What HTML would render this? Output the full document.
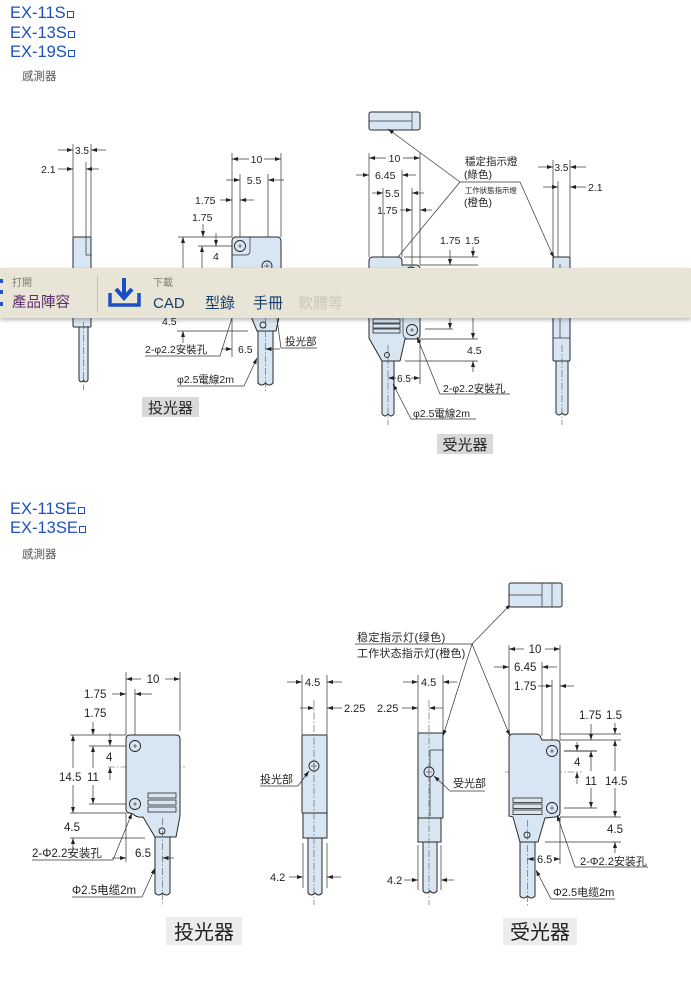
<!DOCTYPE html>
<html><head><meta charset="utf-8">
<style>
html,body{margin:0;padding:0;background:#fff;}
body{width:691px;height:989px;position:relative;overflow:hidden;font-family:"Liberation Sans","Noto Sans CJK TC",sans-serif;}
.h{position:absolute;left:10px;font-size:16.5px;line-height:19px;color:#1d4fc0;white-space:nowrap;}
.h i{display:inline-block;width:5px;height:5px;border:1px solid #1d4fc0;margin-left:1px;vertical-align:baseline;}
.sub{position:absolute;left:22px;font-size:11.5px;line-height:12px;color:#555;}
#tb{position:absolute;left:0;top:268px;width:691px;height:50px;background:#e9e5d6;box-shadow:0 2px 4px rgba(0,0,0,.28);z-index:5;}
#tb div{position:absolute;white-space:nowrap;line-height:1;}
.sm{font-size:10px;color:#7d7a72;}
.bg{font-size:15px;color:#163d6e;}
</style></head><body>

<div class="h" style="top:4px">EX-11S<i></i></div>
<div class="h" style="top:24px">EX-13S<i></i></div>
<div class="h" style="top:43px">EX-19S<i></i></div>
<div class="sub" style="top:71px">感測器</div>

<div class="h" style="top:500px">EX-11SE<i></i></div>
<div class="h" style="top:519px">EX-13SE<i></i></div>
<div class="sub" style="top:549px">感測器</div>

<svg width="691" height="989" viewBox="0 0 691 989" style="position:absolute;left:0;top:0">
<defs>
<marker id="a" markerWidth="6" markerHeight="4" refX="6" refY="2" orient="auto-start-reverse" markerUnits="userSpaceOnUse"><path d="M0,0L6,2L0,4z" fill="#222"/></marker>
</defs>
<style>
.o{fill:#d8e6f3;stroke:#2a2a2a;stroke-width:1}
.l{stroke:#333;stroke-width:.7;fill:none}
.c{stroke:#555;stroke-width:.6;stroke-dasharray:7 2 1.5 2;fill:none}
.d{stroke:#333;stroke-width:.7;fill:none;marker-end:url(#a)}
.hc{fill:#d8e6f3;stroke:#222;stroke-width:.9}
.x{stroke:#222;stroke-width:.6;fill:none}
text{font-family:"Liberation Sans","Noto Sans CJK TC",sans-serif;font-size:10.5px;fill:#222}
.s{font-family:"Liberation Sans","Noto Sans CJK SC",sans-serif;font-size:11px}
.lb{fill:#d9d9d9}
</style>

<!-- ============ TOP: emitter side view ============ -->
<line class="l" x1="73" y1="144" x2="73" y2="237"/>
<line class="l" x1="91" y1="144" x2="91" y2="237"/>
<line class="l" x1="86" y1="162" x2="86" y2="237"/>
<line class="d" x1="58" y1="150" x2="73" y2="150"/>
<line class="d" x1="106" y1="150" x2="91" y2="150"/>
<text x="82" y="154" text-anchor="middle" style="font-size:10px">3.5</text>
<text x="41" y="173">2.1</text>
<line class="d" x1="58" y1="169" x2="73" y2="169"/>
<line class="d" x1="99" y1="169" x2="86" y2="169"/>
<path class="o" d="M79,326 V380 Q81.25,384 83.5,380 Q85.75,384 88,380 V326 Z"/>
<rect class="o" x="73" y="237" width="18" height="90" rx="1"/>
<path class="l" d="M86,237 V255 H91"/>
<line class="c" x1="83.5" y1="322" x2="83.5" y2="390"/>

<!-- ============ TOP: emitter front ============ -->
<line class="l" x1="232" y1="153" x2="232" y2="237"/>
<line class="l" x1="281" y1="153" x2="281" y2="237"/>
<line class="l" x1="240" y1="174" x2="240" y2="241"/>
<line class="l" x1="268" y1="174" x2="268" y2="262"/>
<line class="d" x1="249" y1="159" x2="232" y2="159"/>
<line class="d" x1="264" y1="159" x2="281" y2="159"/>
<text x="256.5" y="163" text-anchor="middle">10</text>
<line class="d" x1="226" y1="180" x2="240" y2="180"/>
<line class="d" x1="284" y1="180" x2="268" y2="180"/>
<text x="254" y="184" text-anchor="middle">5.5</text>
<text x="195" y="204">1.75</text>
<line class="d" x1="220" y1="200" x2="232" y2="200"/>
<line class="d" x1="254" y1="200" x2="240" y2="200"/>
<text x="192" y="221">1.75</text>
<line class="d" x1="203" y1="224" x2="203" y2="237"/>
<line class="d" x1="216" y1="233" x2="216" y2="246"/>
<line class="l" x1="178" y1="237" x2="232" y2="237"/>
<line class="l" x1="198" y1="246" x2="236" y2="246"/>
<line class="d" x1="183" y1="268" x2="183" y2="237"/>
<line class="d" x1="202" y1="268" x2="202" y2="246"/>
<text x="213" y="260">4</text>

<path class="o" d="M232,241 Q232,237 236,237 L277,237 Q281,237 281,241 L281,308 L276,331 L257,331 L248,309 L236,309 Q232,309 232,305 Z"/>
<path class="l" d="M232,255 L246,255 Q250,255 250,251 L250,237"/>
<circle class="hc" cx="240" cy="246" r="5.5"/><path class="x" d="M238,246H242M240,244V248"/>
<circle class="hc" cx="267" cy="266" r="5"/><path class="x" d="M264,266H270M267,263V269"/>
<circle class="hc" cx="263" cy="325" r="3"/>
<path class="o" d="M258,331 V383 Q261.75,387 265.5,383 Q269.25,387 273,383 V331 Z"/>
<line class="c" x1="265.5" y1="318" x2="265.5" y2="392"/>

<text x="162" y="325">4.5</text>
<line class="l" x1="177" y1="331" x2="248" y2="331"/>
<line class="d" x1="183" y1="343" x2="183" y2="331"/>
<text x="145" y="353" style="font-size:10.5px">2-φ2.2安裝孔</text>
<path class="l" d="M145,356 H220 L236,305"/>
<text x="238" y="353">6.5</text>
<line class="d" x1="221" y1="349" x2="232" y2="349"/>
<line class="d" x1="280" y1="349" x2="265.5" y2="349"/>
<line class="l" x1="232" y1="309" x2="232" y2="357"/>
<text x="177" y="383" style="font-size:10.5px">φ2.5電線2m</text>
<path class="l" d="M177,386 H244"/>
<line class="d" x1="244" y1="386" x2="257" y2="358"/>
<text x="285" y="345" style="font-size:10.5px">投光部</text>
<path class="l" d="M270,268 L281,348 H317"/>
<rect class="lb" x="142" y="397" width="57" height="20"/>
<text x="170.5" y="413" text-anchor="middle" style="font-size:15px">投光器</text>

<!-- ============ TOP: receiver front ============ -->
<rect class="o" x="369" y="112" width="51" height="18" rx="2"/>
<line class="l" x1="412" y1="112" x2="412" y2="130"/>
<line class="l" x1="369" y1="121" x2="412" y2="121"/>

<line class="l" x1="369" y1="153" x2="369" y2="257"/>
<line class="l" x1="383" y1="188" x2="383" y2="257"/>
<line class="l" x1="402" y1="170" x2="402" y2="257"/>
<line class="l" x1="412" y1="188" x2="412" y2="266"/>
<line class="l" x1="420" y1="153" x2="420" y2="265"/>
<line class="d" x1="386" y1="158" x2="369" y2="158"/>
<line class="d" x1="403" y1="158" x2="420" y2="158"/>
<text x="394.5" y="162" text-anchor="middle">10</text>
<line class="d" x1="356" y1="175" x2="369" y2="175"/>
<text x="375" y="179">6.45</text>
<line class="d" x1="416" y1="175" x2="402" y2="175"/>
<line class="d" x1="372" y1="193" x2="383" y2="193"/>
<text x="385" y="197">5.5</text>
<line class="d" x1="424" y1="193" x2="412" y2="193"/>
<text x="377" y="214">1.75</text>
<line class="d" x1="400" y1="210" x2="412" y2="210"/>
<line class="d" x1="432" y1="210" x2="420" y2="210"/>

<text x="465" y="165" style="font-size:10.5px">穩定指示燈</text>
<text x="464" y="178" style="font-size:10.5px">(綠色)</text>
<line class="l" x1="460" y1="182" x2="520" y2="182"/>
<text x="465" y="193" style="font-size:7.4px">工作狀態指示燈</text>
<text x="464" y="206" style="font-size:10.5px">(橙色)</text>
<line class="d" x1="460" y1="182" x2="388" y2="129"/>
<line class="d" x1="460" y1="182" x2="393" y2="263"/>
<line class="d" x1="520" y1="182" x2="554" y2="258"/>

<text x="440" y="244">1.75</text>
<text x="465" y="244">1.5</text>
<line class="d" x1="450" y1="250" x2="450" y2="265"/>
<line class="d" x1="473" y1="247" x2="473" y2="257"/>
<line class="l" x1="404" y1="257" x2="478" y2="257"/>
<line class="l" x1="420" y1="265" x2="478" y2="265"/>

<path class="o" d="M369,261 Q369,257 373,257 L398,257 Q402,257 402,261 L402,265 L416,265 Q420,265 420,269 L420,335 Q420,339 416,339 L405,339 L400,361 L382,361 L370,340 L369,338 Z"/>
<circle class="hc" cx="411" cy="272" r="5"/>
<path class="l" d="M403,316 V333 Q403,339 409,339"/>
<circle class="hc" cx="412" cy="330" r="5.5"/><path class="x" d="M410,330H414M412,328V332"/>
<rect class="o" x="373" y="319" width="27" height="4" style="stroke-width:.8"/>
<rect class="o" x="373" y="324" width="27" height="4" style="stroke-width:.8"/>
<rect class="o" x="373" y="329" width="27" height="4" style="stroke-width:.8"/>
<circle class="hc" cx="387" cy="355" r="2.5"/>
<path class="o" d="M382,361 V414 Q385,418 388,414 Q391,418 394,414 V361 Z"/>
<line class="c" x1="388" y1="345" x2="388" y2="425"/>

<line class="l" x1="425" y1="329" x2="453" y2="329"/>
<line class="d" x1="450" y1="318" x2="450" y2="329"/>
<line class="d" x1="473" y1="318" x2="473" y2="339"/>
<line class="l" x1="420" y1="339" x2="478" y2="339"/>
<line class="l" x1="405" y1="361" x2="478" y2="361"/>
<text x="467" y="354">4.5</text>
<line class="d" x1="473" y1="372" x2="473" y2="361"/>
<line class="l" x1="420" y1="339" x2="420" y2="384"/>
<text x="397" y="382" style="font-size:10px">6.5</text>
<line class="d" x1="411" y1="378" x2="420" y2="378"/>
<line class="d" x1="396" y1="378" x2="388" y2="378"/>
<text x="443" y="392">2-φ2.2安裝孔</text>
<line class="l" x1="440" y1="394" x2="510" y2="394"/>
<line class="d" x1="440" y1="394" x2="417" y2="337"/>
<text x="413" y="417">φ2.5電線2m</text>
<line class="l" x1="411" y1="419" x2="476" y2="419"/>
<line class="d" x1="411" y1="419" x2="393" y2="384"/>
<rect class="lb" x="437" y="434" width="56" height="20"/>
<text x="465" y="450" text-anchor="middle" style="font-size:15px">受光器</text>

<!-- TOP: receiver side view -->
<line class="l" x1="553" y1="160" x2="553" y2="257"/>
<line class="l" x1="570" y1="160" x2="570" y2="257"/>
<line class="l" x1="558" y1="181" x2="558" y2="257"/>
<line class="d" x1="538" y1="167" x2="553" y2="167"/>
<line class="d" x1="586" y1="167" x2="570" y2="167"/>
<text x="561.5" y="171" text-anchor="middle" style="font-size:10px">3.5</text>
<line class="d" x1="543" y1="187" x2="558" y2="187"/>
<line class="d" x1="586" y1="187" x2="570" y2="187"/>
<text x="588" y="191">2.1</text>
<path class="o" d="M556,361 V413 Q559,417 562,413 Q565,417 568,413 V361 Z"/>
<rect class="o" x="553" y="257" width="17" height="104" rx="1.5"/>
<path class="l" d="M560,264 V338 M553,338 H570"/>
<line class="c" x1="562" y1="345" x2="562" y2="425"/>

<!-- ============ BOTTOM: emitter front ============ -->
<line class="l" x1="126" y1="672" x2="126" y2="735"/>
<line class="l" x1="180" y1="672" x2="180" y2="731"/>
<line class="l" x1="135" y1="689" x2="135" y2="741"/>
<line class="d" x1="141" y1="679" x2="126" y2="679"/>
<line class="d" x1="165" y1="679" x2="180" y2="679"/>
<text x="153" y="683" text-anchor="middle" style="font-size:11.5px">10</text>
<text x="84" y="698" style="font-size:11.5px">1.75</text>
<line class="d" x1="112" y1="694" x2="126" y2="694"/>
<line class="d" x1="152" y1="694" x2="135" y2="694"/>
<text x="84" y="717" style="font-size:11.5px">1.75</text>
<line class="d" x1="93" y1="722" x2="93" y2="735"/>
<line class="d" x1="110" y1="733" x2="110" y2="746"/>
<line class="l" x1="70" y1="735" x2="126" y2="735"/>
<line class="l" x1="89" y1="746" x2="129" y2="746"/>
<line class="l" x1="89" y1="804" x2="129" y2="804"/>
<line class="l" x1="70" y1="813" x2="126" y2="813"/>
<line class="l" x1="70" y1="838" x2="145" y2="838"/>
<line class="d" x1="73" y1="768" x2="73" y2="735"/>
<line class="d" x1="73" y1="785" x2="73" y2="813"/>
<text x="59" y="781" style="font-size:11.5px">14.5</text>
<line class="d" x1="93" y1="768" x2="93" y2="746"/>
<line class="d" x1="93" y1="785" x2="93" y2="804"/>
<text x="87" y="781" style="font-size:11.5px">11</text>
<text x="106" y="761" style="font-size:11.5px">4</text>
<line class="d" x1="110" y1="780" x2="110" y2="767"/>
<text x="64" y="831" style="font-size:11.5px">4.5</text>
<line class="d" x1="73" y1="851" x2="73" y2="838"/>
<line class="c" x1="108" y1="767" x2="185" y2="767"/>

<path class="o" d="M126,739 Q126,735 130,735 L176,735 Q180,735 180,739 L180,816 L176,837 L155,837 L143,817 Q137,818 133,814 L130,813 Q126,813 126,809 Z"/>
<circle class="hc" cx="135" cy="746" r="5.5"/><path class="x" d="M133,746H137M135,744V748"/>
<circle class="hc" cx="135" cy="804" r="5.5"/><path class="x" d="M133,804H137M135,802V806"/>
<rect class="o" x="148" y="793" width="28" height="5" style="stroke-width:.8"/>
<rect class="o" x="148" y="800" width="28" height="5" style="stroke-width:.8"/>
<rect class="o" x="148" y="807" width="28" height="5" style="stroke-width:.8"/>
<circle class="hc" cx="162" cy="831" r="3"/>
<path class="o" d="M155,837 V893 Q158.75,897 162.5,893 Q166.25,897 170,893 V837 Z"/>
<line class="c" x1="162.5" y1="818" x2="162.5" y2="906"/>

<line class="l" x1="126" y1="813" x2="126" y2="862"/>
<text x="32" y="857" class="s" style="font-size:11.5px">2-Φ2.2安装孔</text>
<path class="l" d="M32,860 H113"/>
<line class="d" x1="113" y1="860" x2="132" y2="813"/>
<text x="135" y="857" style="font-size:11.5px">6.5</text>
<line class="d" x1="112" y1="858" x2="126" y2="858"/>
<line class="d" x1="174" y1="858" x2="162.5" y2="858"/>
<text x="72" y="894" class="s" style="font-size:11.5px">Φ2.5电缆2m</text>
<path class="l" d="M72,897 H142"/>
<line class="d" x1="142" y1="897" x2="155" y2="868"/>
<rect x="166" y="917" width="76" height="28" fill="#ececec"/>
<text x="204" y="939" text-anchor="middle" class="s" style="font-size:20px">投光器</text>

<!-- ============ BOTTOM: emitter side ============ -->
<line class="l" x1="302" y1="675" x2="302" y2="735"/>
<line class="l" x1="327" y1="675" x2="327" y2="735"/>
<line class="d" x1="287" y1="682" x2="302" y2="682"/>
<line class="d" x1="342" y1="682" x2="327" y2="682"/>
<text x="305" y="686" style="font-size:11px">4.5</text>
<line class="d" x1="300" y1="708" x2="314" y2="708"/>
<line class="d" x1="342" y1="708" x2="327" y2="708"/>
<text x="344" y="712" style="font-size:11px">2.25</text>
<path class="o" d="M308,838 V893 Q311.5,897 315,893 Q318.5,897 322,893 V838 Z"/>
<rect class="o" x="303" y="811" width="24" height="27"/>
<rect class="o" x="302" y="735" width="25" height="78" rx="1"/>
<circle class="hc" cx="314" cy="766" r="5"/><path class="x" d="M311,766H317M314,763V769"/>
<line class="c" x1="314" y1="700" x2="314" y2="905"/>
<text x="260" y="783" class="s">投光部</text>
<path class="l" d="M260,786 H298"/>
<line class="d" x1="298" y1="786" x2="309" y2="771"/>
<line class="l" x1="303" y1="843" x2="303" y2="888"/>
<line class="l" x1="327" y1="843" x2="327" y2="888"/>
<text x="270" y="881" style="font-size:11px">4.2</text>
<line class="d" x1="289" y1="877" x2="303" y2="877"/>
<line class="d" x1="341" y1="877" x2="327" y2="877"/>

<!-- ============ BOTTOM: receiver side ============ -->
<line class="l" x1="418" y1="675" x2="418" y2="733"/>
<line class="l" x1="443" y1="675" x2="443" y2="733"/>
<line class="d" x1="403" y1="682" x2="418" y2="682"/>
<line class="d" x1="457" y1="682" x2="443" y2="682"/>
<text x="421" y="686" style="font-size:11px">4.5</text>
<text x="377" y="712" style="font-size:11px">2.25</text>
<line class="d" x1="402" y1="708" x2="418" y2="708"/>
<line class="d" x1="443" y1="708" x2="429" y2="708"/>
<path class="o" d="M423,842 V891 Q426.5,895 430,891 Q433.5,895 437,891 V842 Z"/>
<rect class="o" x="418" y="816" width="23" height="26"/>
<rect class="o" x="418" y="733" width="25" height="85" rx="1"/>
<path class="l" d="M430,750 H443 M430,750 V816"/>
<circle class="hc" cx="429" cy="772" r="5"/><path class="x" d="M426,772H432M429,769V775"/>
<line class="c" x1="429" y1="700" x2="429" y2="905"/>
<text x="453" y="787" class="s">受光部</text>
<path class="l" d="M450,791 H485"/>
<line class="d" x1="450" y1="791" x2="434" y2="776"/>
<line class="l" x1="418" y1="845" x2="418" y2="890"/>
<line class="l" x1="441" y1="845" x2="441" y2="890"/>
<text x="387" y="884" style="font-size:11px">4.2</text>
<line class="d" x1="404" y1="880" x2="418" y2="880"/>
<line class="d" x1="454" y1="880" x2="441" y2="880"/>

<!-- labels bottom -->
<text x="357" y="641" class="s" style="font-size:11px;letter-spacing:.5px">稳定指示灯(绿色)</text>
<line class="l" x1="355" y1="644" x2="473" y2="644"/>
<text x="357" y="657" class="s" style="font-size:11px;letter-spacing:.2px">工作状态指示灯(橙色)</text>
<line class="d" x1="472" y1="644" x2="511" y2="604"/>
<line class="d" x1="472" y1="644" x2="510" y2="736"/>
<line class="d" x1="472" y1="644" x2="443" y2="736"/>

<!-- ============ BOTTOM: receiver front ============ -->
<rect class="o" x="509" y="583" width="53" height="24" rx="2"/>
<line class="l" x1="509" y1="595" x2="542" y2="595"/>
<line class="l" x1="542" y1="583" x2="542" y2="607"/>
<line class="l" x1="552" y1="583" x2="552" y2="607"/>

<line class="l" x1="509" y1="645" x2="509" y2="734"/>
<line class="l" x1="560" y1="645" x2="560" y2="740"/>
<line class="l" x1="542" y1="662" x2="542" y2="736"/>
<line class="l" x1="552" y1="680" x2="552" y2="745"/>
<line class="d" x1="524" y1="649" x2="509" y2="649"/>
<line class="d" x1="545" y1="649" x2="560" y2="649"/>
<text x="535" y="653" text-anchor="middle" style="font-size:11.5px">10</text>
<line class="d" x1="494" y1="667" x2="509" y2="667"/>
<text x="514" y="671" style="font-size:11.5px">6.45</text>
<line class="d" x1="557" y1="667" x2="542" y2="667"/>
<text x="514" y="690" style="font-size:11.5px">1.75</text>
<line class="d" x1="538" y1="686" x2="552" y2="686"/>
<line class="d" x1="574" y1="686" x2="560" y2="686"/>
<text x="579" y="719" style="font-size:11.5px">1.75</text>
<text x="606" y="719" style="font-size:11.5px">1.5</text>
<line class="d" x1="591" y1="724" x2="591" y2="740"/>
<line class="d" x1="615" y1="723" x2="615" y2="734"/>
<line class="l" x1="560" y1="734" x2="621" y2="734"/>
<line class="l" x1="560" y1="740" x2="621" y2="740"/>
<line class="l" x1="564" y1="751" x2="597" y2="751" style="stroke-width:1.1"/>
<line class="l" x1="564" y1="808" x2="597" y2="808"/>
<line class="l" x1="560" y1="817" x2="621" y2="817"/>
<line class="l" x1="545" y1="842" x2="621" y2="842"/>
<text x="574" y="766" style="font-size:11.5px">4</text>
<line class="d" x1="577" y1="742" x2="577" y2="751"/>
<line class="d" x1="577" y1="784" x2="577" y2="772"/>
<line class="d" x1="591" y1="771" x2="591" y2="751"/>
<line class="d" x1="591" y1="788" x2="591" y2="808"/>
<text x="585" y="785" style="font-size:11.5px">11</text>
<line class="d" x1="615" y1="771" x2="615" y2="740"/>
<line class="d" x1="615" y1="788" x2="615" y2="817"/>
<text x="605" y="785" style="font-size:11.5px">14.5</text>
<text x="607" y="833" style="font-size:11.5px">4.5</text>
<line class="d" x1="615" y1="853" x2="615" y2="842"/>
<line class="c" x1="505" y1="772" x2="582" y2="772"/>

<path class="o" d="M509,738 Q509,734 513,734 L536,734 Q540,734 541,738 L542,740 L556,740 Q560,740 560,744 L560,812 Q560,817 555,817 L545,818 L538,842 L520,842 L513,817 L509,816 Z"/>
<circle class="hc" cx="552" cy="751" r="5.5"/><path class="x" d="M550,751H554M552,749V753"/>
<circle class="hc" cx="552" cy="808" r="5.5"/><path class="x" d="M550,808H554M552,806V810"/>
<rect class="o" x="513" y="798" width="29" height="4.5" style="stroke-width:.8"/>
<rect class="o" x="513" y="804" width="29" height="4.5" style="stroke-width:.8"/>
<rect class="o" x="513" y="810" width="29" height="4.5" style="stroke-width:.8"/>
<circle class="hc" cx="527" cy="835" r="3"/>
<path class="o" d="M520,842 V896 Q523.75,900 527.5,896 Q531.25,900 535,896 V842 Z"/>
<line class="c" x1="527.5" y1="820" x2="527.5" y2="906"/>

<line class="l" x1="560" y1="817" x2="560" y2="864"/>
<text x="537" y="863" style="font-size:11px">6.5</text>
<line class="d" x1="554" y1="859" x2="560" y2="859"/>
<line class="d" x1="535" y1="859" x2="527.5" y2="859"/>
<text x="580" y="865" class="s" style="font-size:11px">2-Φ2.2安装孔</text>
<line class="l" x1="575" y1="867" x2="648" y2="867"/>
<line class="d" x1="575" y1="867" x2="557" y2="815"/>
<text x="553" y="896" class="s" style="font-size:11px">Φ2.5电缆2m</text>
<line class="l" x1="551" y1="899" x2="615" y2="899"/>
<line class="d" x1="551" y1="899" x2="536" y2="870"/>
<rect x="503" y="918" width="74" height="27" fill="#ececec"/>
<text x="540" y="939" text-anchor="middle" class="s" style="font-size:20px">受光器</text>
</svg>

<div id="tb">
  <span style="position:absolute;left:0;top:11px;width:3px;height:4px;background:#2353c4"></span>
  <span style="position:absolute;left:0;top:22px;width:3px;height:4px;background:#2353c4"></span>
  <span style="position:absolute;left:0;top:34px;width:3px;height:4px;background:#2353c4"></span>
  <div class="sm" style="left:12px;top:11px">打開</div>
  <div style="left:12px;top:28px;font-size:14.5px;color:#5e2b6e">產品陣容</div>
  <div style="left:97px;top:7px;width:1px;height:37px;background:#cdbfa2"></div>
  <svg width="36" height="32" viewBox="0 0 36 32" style="position:absolute;left:107px;top:9px">
    <path d="M17,1 V20" stroke="#1b4fc6" stroke-width="4" fill="none"/>
    <path d="M9,12 L17,21 L25,12" stroke="#1b4fc6" stroke-width="4" fill="none"/>
    <path d="M3,16 V28 H32 V16" stroke="#1b4fc6" stroke-width="3.5" fill="none"/>
  </svg>
  <div class="sm" style="left:153px;top:11px">下載</div>
  <div class="bg" style="left:153px;top:28px">CAD</div>
  <div class="bg" style="left:205px;top:28px">型錄</div>
  <div class="bg" style="left:253px;top:28px">手冊</div>
  <div class="bg" style="left:298px;top:28px;color:#cbc7bb">軟體等</div>
</div>

</body></html>
